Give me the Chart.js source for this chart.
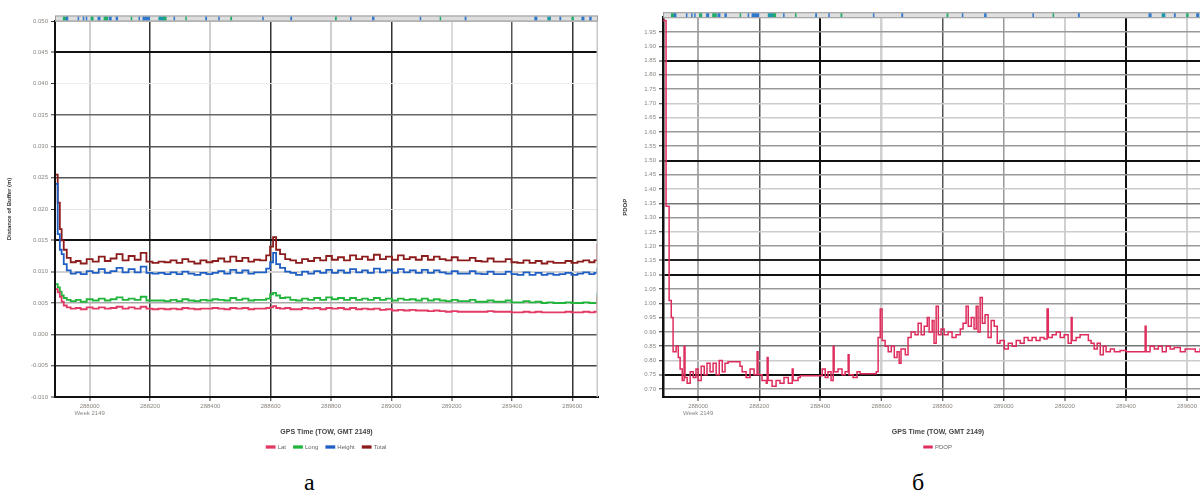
<!DOCTYPE html>
<html>
<head>
<meta charset="utf-8">
<title>Buffer deviation and PDOP, week 2149</title>
<script src="https://cdn.jsdelivr.net/npm/chart.js@4.4.1/dist/chart.umd.min.js"></script>
<style>
  html, body { margin: 0; padding: 0; background: #fff; width: 1200px; height: 502px; overflow: hidden; }
  .pane { position: absolute; top: 0; }
  .cap { position: absolute; font-family: "Liberation Serif", "DejaVu Serif", serif; font-size: 24px; color: #000; line-height: 1; }
</style>
</head>
<body>
<div class="pane" style="left:0px"><canvas id="chartA" width="653" height="460"></canvas></div>
<div class="pane" style="left:612px"><canvas id="chartB" width="652" height="460"></canvas></div>
<div class="cap" id="capA" style="left:304px; top:470px">а</div>
<div class="cap" id="capB" style="left:912px; top:470px">б</div>
<script>
// ---- GPS time of week (s), shared tick marks ----
const xTicks = [288000, 288200, 288400, 288600, 288800, 289000, 289200, 289400, 289600];
const weekLabel = 'Week 2149';

// ---- Chart a: buffer deviation per component (m) ----
const timeA = [287888, 287894, 287901, 287907, 287914, 287924, 287937, 287954, 287970, 287990,
  288010, 288030, 288050, 288069, 288089, 288109, 288129, 288149, 288169, 288188,
  288208, 288228, 288248, 288268, 288288, 288307, 288327, 288347, 288367, 288387,
  288407, 288426, 288446, 288466, 288486, 288506, 288526, 288545, 288565, 288585,
  288598, 288608, 288618, 288631, 288648, 288665, 288684, 288704, 288724, 288744,
  288764, 288784, 288803, 288823, 288843, 288863, 288883, 288903, 288922, 288942,
  288962, 288982, 289002, 289022, 289041, 289061, 289081, 289101, 289121, 289141,
  289160, 289180, 289200, 289220, 289240, 289260, 289279, 289299, 289319, 289339,
  289359, 289379, 289398, 289418, 289438, 289458, 289478, 289498, 289517, 289537,
  289557, 289577, 289597, 289617, 289636, 289656, 289673, 289683];

const latA = [0.0072, 0.0067, 0.0060, 0.0052, 0.0046, 0.0043, 0.0041, 0.0042, 0.0040, 0.0043,
  0.0041, 0.0043, 0.0041, 0.0042, 0.0044, 0.0041, 0.0043, 0.0041, 0.0044, 0.0041,
  0.0040, 0.0041, 0.0040, 0.0041, 0.0040, 0.0042, 0.0041, 0.0040, 0.0041, 0.0041,
  0.0042, 0.0041, 0.0040, 0.0042, 0.0041, 0.0042, 0.0040, 0.0041, 0.0041, 0.0042,
  0.0043, 0.0045, 0.0042, 0.0041, 0.0042, 0.0040, 0.0040, 0.0042, 0.0041, 0.0042,
  0.0040, 0.0042, 0.0041, 0.0042, 0.0040, 0.0042, 0.0040, 0.0041, 0.0040, 0.0041,
  0.0039, 0.0040, 0.0038, 0.0039, 0.0038, 0.0039, 0.0038, 0.0038, 0.0037, 0.0038,
  0.0037, 0.0036, 0.0037, 0.0036, 0.0036, 0.0036, 0.0036, 0.0036, 0.0037, 0.0036,
  0.0036, 0.0036, 0.0035, 0.0035, 0.0036, 0.0035, 0.0036, 0.0035, 0.0035, 0.0035,
  0.0035, 0.0036, 0.0035, 0.0035, 0.0036, 0.0035, 0.0036, 0.0060];

const longA = [0.0080, 0.0075, 0.0068, 0.0062, 0.0058, 0.0055, 0.0053, 0.0055, 0.0052, 0.0056,
  0.0054, 0.0057, 0.0054, 0.0056, 0.0059, 0.0055, 0.0057, 0.0055, 0.0060, 0.0054,
  0.0054, 0.0054, 0.0053, 0.0055, 0.0053, 0.0056, 0.0054, 0.0053, 0.0055, 0.0054,
  0.0056, 0.0055, 0.0054, 0.0058, 0.0055, 0.0057, 0.0054, 0.0055, 0.0055, 0.0057,
  0.0064, 0.0066, 0.0062, 0.0058, 0.0059, 0.0055, 0.0054, 0.0057, 0.0055, 0.0058,
  0.0055, 0.0059, 0.0056, 0.0058, 0.0055, 0.0058, 0.0055, 0.0057, 0.0055, 0.0058,
  0.0055, 0.0057, 0.0054, 0.0057, 0.0055, 0.0056, 0.0054, 0.0057, 0.0054, 0.0056,
  0.0054, 0.0053, 0.0055, 0.0053, 0.0053, 0.0055, 0.0052, 0.0052, 0.0054, 0.0052,
  0.0052, 0.0054, 0.0051, 0.0051, 0.0053, 0.0051, 0.0052, 0.0050, 0.0051, 0.0050,
  0.0050, 0.0051, 0.0050, 0.0050, 0.0051, 0.0050, 0.0050, 0.0066];

const heightA = [0.0240, 0.0160, 0.0135, 0.0128, 0.0112, 0.0102, 0.0097, 0.0099, 0.0096, 0.0101,
  0.0098, 0.0104, 0.0098, 0.0101, 0.0106, 0.0099, 0.0104, 0.0099, 0.0108, 0.0098,
  0.0097, 0.0098, 0.0096, 0.0099, 0.0096, 0.0100, 0.0097, 0.0095, 0.0098, 0.0096,
  0.0098, 0.0101, 0.0097, 0.0103, 0.0098, 0.0102, 0.0097, 0.0099, 0.0099, 0.0105,
  0.0115, 0.0130, 0.0112, 0.0106, 0.0100, 0.0098, 0.0095, 0.0100, 0.0097, 0.0101,
  0.0098, 0.0103, 0.0098, 0.0102, 0.0098, 0.0104, 0.0099, 0.0102, 0.0098, 0.0105,
  0.0099, 0.0102, 0.0098, 0.0104, 0.0099, 0.0102, 0.0098, 0.0103, 0.0098, 0.0102,
  0.0099, 0.0097, 0.0101, 0.0097, 0.0097, 0.0101, 0.0097, 0.0096, 0.0100, 0.0096,
  0.0096, 0.0100, 0.0096, 0.0095, 0.0099, 0.0095, 0.0098, 0.0095, 0.0097, 0.0095,
  0.0096, 0.0098, 0.0095, 0.0097, 0.0099, 0.0096, 0.0098, 0.0106];

const totalA = [0.0255, 0.0210, 0.0168, 0.0150, 0.0135, 0.0122, 0.0115, 0.0117, 0.0113, 0.0120,
  0.0116, 0.0124, 0.0117, 0.0121, 0.0128, 0.0118, 0.0125, 0.0119, 0.0130, 0.0116,
  0.0114, 0.0116, 0.0115, 0.0118, 0.0114, 0.0120, 0.0116, 0.0113, 0.0118, 0.0115,
  0.0117, 0.0121, 0.0116, 0.0124, 0.0117, 0.0122, 0.0116, 0.0119, 0.0118, 0.0126,
  0.0140, 0.0155, 0.0135, 0.0128, 0.0120, 0.0118, 0.0114, 0.0120, 0.0117, 0.0122,
  0.0118, 0.0125, 0.0119, 0.0123, 0.0118, 0.0126, 0.0120, 0.0124, 0.0119, 0.0127,
  0.0120, 0.0124, 0.0119, 0.0126, 0.0120, 0.0123, 0.0119, 0.0125, 0.0119, 0.0124,
  0.0120, 0.0118, 0.0123, 0.0118, 0.0118, 0.0122, 0.0117, 0.0116, 0.0121, 0.0116,
  0.0116, 0.0120, 0.0115, 0.0114, 0.0118, 0.0114, 0.0117, 0.0113, 0.0116, 0.0114,
  0.0114, 0.0117, 0.0114, 0.0116, 0.0118, 0.0115, 0.0118, 0.0145];

const yTicksA = [-0.010, -0.005, 0.000, 0.005, 0.010, 0.015, 0.020, 0.025, 0.030, 0.035, 0.040, 0.045, 0.050];

// ---- Chart б: PDOP ----
const timeB = [287885, 287895, 287902, 287905, 287912, 287915, 287918, 287928, 287935, 287941,
  287948, 287954, 287957, 287964, 287974, 287984, 287993, 288000, 288010, 288020,
  288029, 288039, 288049, 288059, 288069, 288079, 288088, 288098, 288137, 288144,
  288157, 288170, 288183, 288193, 288196, 288209, 288223, 288226, 288229, 288242,
  288255, 288268, 288281, 288295, 288308, 288311, 288327, 288334, 288399, 288406,
  288416, 288425, 288435, 288442, 288445, 288458, 288471, 288481, 288491, 288494,
  288507, 288520, 288530, 288570, 288583, 288589, 288596, 288602, 288612, 288622,
  288632, 288642, 288651, 288658, 288664, 288678, 288687, 288697, 288710, 288720,
  288730, 288740, 288750, 288756, 288766, 288772, 288779, 288786, 288795, 288805,
  288818, 288831, 288844, 288858, 288867, 288877, 288884, 288894, 288903, 288910,
  288916, 288923, 288930, 288939, 288949, 288959, 288969, 288979, 288988, 289002,
  289015, 289028, 289041, 289054, 289067, 289080, 289093, 289106, 289119, 289132,
  289142, 289146, 289159, 289172, 289185, 289198, 289211, 289221, 289224, 289237,
  289250, 289263, 289277, 289286, 289296, 289306, 289316, 289326, 289335, 289349,
  289362, 289381, 289401, 289457, 289463, 289466, 289479, 289493, 289506, 289519,
  289532, 289545, 289558, 289578, 289594, 289610, 289627, 289643, 289676];

const pdopB = [1.99, 1.34, 1.34, 1.01, 0.95, 0.95, 0.83, 0.85, 0.81, 0.77,
  0.73, 0.85, 0.74, 0.72, 0.76, 0.74, 0.77, 0.73, 0.78, 0.75,
  0.79, 0.76, 0.79, 0.75, 0.80, 0.76, 0.79, 0.795, 0.78, 0.76,
  0.74, 0.77, 0.75, 0.83, 0.75, 0.73, 0.72, 0.81, 0.73, 0.71,
  0.73, 0.72, 0.74, 0.72, 0.77, 0.73, 0.74, 0.746, 0.746, 0.77,
  0.74, 0.76, 0.73, 0.85, 0.76, 0.77, 0.75, 0.76, 0.82, 0.75,
  0.74, 0.76, 0.753, 0.753, 0.76, 0.88, 0.98, 0.87, 0.85, 0.83,
  0.85, 0.81, 0.83, 0.79, 0.84, 0.82, 0.88, 0.90, 0.89, 0.93,
  0.89, 0.92, 0.95, 0.90, 0.94, 0.86, 0.99, 0.89, 0.91, 0.89,
  0.90, 0.88, 0.89, 0.91, 0.93, 0.99, 0.92, 0.95, 0.91, 0.99,
  0.90, 1.02, 0.93, 0.96, 0.88, 0.94, 0.92, 0.86, 0.87, 0.84,
  0.86, 0.85, 0.87, 0.86, 0.88, 0.87, 0.88, 0.87, 0.88, 0.875,
  0.98, 0.88, 0.89, 0.90, 0.88, 0.89, 0.86, 0.95, 0.87, 0.88,
  0.89, 0.89, 0.87, 0.86, 0.84, 0.86, 0.82, 0.85, 0.83, 0.84,
  0.83, 0.835, 0.83, 0.83, 0.92, 0.83, 0.85, 0.84, 0.85, 0.83,
  0.85, 0.84, 0.845, 0.83, 0.84, 0.84, 0.83, 0.84, 0.84];

const yTicksB = [0.70, 0.75, 0.80, 0.85, 0.90, 0.95, 1.00, 1.05, 1.10, 1.15, 1.20, 1.25, 1.30,
  1.35, 1.40, 1.45, 1.50, 1.55, 1.60, 1.65, 1.70, 1.75, 1.80, 1.85, 1.90, 1.95];

// ---- satellite tracking status strip above the plots ----
const stripT = [287911, 287921, 287960, 287977, 287987, 288003, 288026, 288046, 288063, 288086,
  288136, 288162, 288175, 288228, 288245, 288278, 288317, 288383, 288426, 288466,
  288572, 288665, 288813, 288863, 288936, 289094, 289160, 289243, 289474, 289517,
  289557, 289597, 289630, 289656];
const stripW = [15, 8, 4, 4, 4, 10, 10, 15, 10, 8,
  4, 4, 25, 20, 10, 5, 4, 6, 4, 6,
  4, 6, 6, 4, 8, 5, 5, 6, 10, 12,
  6, 8, 10, 8];
const stripK = ['g', 'b', 'b', 'b', 'b', 'g', 'b', 'g', 'b', 'b',
  'g', 'b', 'b', 't', 'g', 'b', 'g', 'b', 'b', 'g',
  'b', 'b', 'g', 'b', 'b', 'b', 'g', 'b', 'b', 't',
  'b', 'g', 'b', 'b'];
const stripColors = { b: '#2f78cf', g: '#1fae6a', t: '#1a9aa8' };

const FONT = '"Liberation Sans", Arial, sans-serif';

const statusStrip = {
  id: 'statusStrip',
  afterDatasetsDraw(chart) {
    const { ctx, chartArea, scales } = chart;
    const x = scales.x;
    const h = 6, y0 = chartArea.top - h + 0.5;
    ctx.save();
    // plot frame on the right
    ctx.strokeStyle = '#c8c8c8';
    ctx.lineWidth = 1.5;
    ctx.beginPath();
    ctx.moveTo(chartArea.right - 0.75, chartArea.top);
    ctx.lineTo(chartArea.right - 0.75, chartArea.bottom);
    ctx.stroke();
    // strip
    ctx.fillStyle = '#dedede';
    ctx.fillRect(chartArea.left, y0, chartArea.right - chartArea.left, h);
    stripT.forEach((t, i) => {
      const a = x.getPixelForValue(t);
      const b = x.getPixelForValue(t + stripW[i]);
      ctx.fillStyle = stripColors[stripK[i]];
      ctx.fillRect(a, y0 + 1, Math.max(1.5, b - a), h - 2);
    });
    ctx.strokeStyle = '#9a9a9a';
    ctx.lineWidth = 1;
    ctx.strokeRect(chartArea.left + 0.5, y0 + 0.5, chartArea.right - chartArea.left - 1, h - 1);
    ctx.restore();
  }
};

function pts(ts, vs) { return ts.map((t, i) => ({ x: t, y: vs[i] })); }

function gridStyle(colors, widths) {
  return {
    color: (c) => colors[c.index] ?? '#ccc',
    lineWidth: (c) => widths[c.index] ?? 1,
    tickColor: '#333',
    tickLength: 4,
    tickWidth: 1
  };
}

function xScale(plotBottom, gridColors, gridWidths) {
  return {
    type: 'linear',
    min: 287885,
    max: 289685,
    afterBuildTicks: (s) => { s.ticks = xTicks.map(v => ({ value: v })); },
    afterFit: (s) => { s.height = s.chart.height - plotBottom - s.chart.legend.height; },
    ticks: {
      autoSkip: false,
      maxRotation: 0,
      padding: 2,
      color: '#8a8580',
      font: { family: FONT, size: 6 },
      callback: (v, i) => i === 0 ? [String(v), weekLabel] : String(v)
    },
    grid: gridStyle(gridColors, gridWidths),
    border: { color: '#111', width: 2 },
    title: {
      display: true,
      text: 'GPS Time (TOW, GMT 2149)',
      color: '#444',
      font: { family: FONT, size: 7, weight: 'bold' },
      padding: { top: 0, bottom: 0 }
    }
  };
}

// empty right-hand margin axis, keeps the plot centred over the legend
function spacerAxis(width) {
  return {
    position: 'right',
    display: true,
    afterFit: (s) => { s.width = width; },
    ticks: { display: false },
    grid: { display: false, drawTicks: false },
    border: { display: false }
  };
}

function legendOpts() {
  return {
    position: 'bottom',
    labels: {
      boxWidth: 8,
      boxHeight: 1.5,
      padding: 8,
      color: '#666',
      font: { family: FONT, size: 6 }
    }
  };
}

// ---- chart a ----
new Chart(document.getElementById('chartA'), {
  type: 'line',
  data: {
    datasets: [
      { label: 'Lat', data: pts(timeA, latA), borderColor: '#e23a64', backgroundColor: '#e23a64' },
      { label: 'Long', data: pts(timeA, longA), borderColor: '#21b53c', backgroundColor: '#21b53c' },
      { label: 'Height', data: pts(timeA, heightA), borderColor: '#1f5fc4', backgroundColor: '#1f5fc4' },
      { label: 'Total', data: pts(timeA, totalA), borderColor: '#8c1c1c', backgroundColor: '#8c1c1c' }
    ]
  },
  options: {
    responsive: false,
    animation: false,
    events: [],
    layout: { padding: { top: 21, right: 0, left: 0, bottom: 0 } },
    elements: { point: { radius: 0 }, line: { borderWidth: 1.8, stepped: true } },
    scales: {
      x: xScale(397,
        ['#cfcfcf', '#333', '#cfcfcf', '#333', '#cfcfcf', '#333', '#dadada', '#555', '#333'],
        [2, 1.5, 2, 1.5, 2, 1.5, 2, 1.5, 1.5]),
      y: {
        min: -0.010,
        max: 0.050,
        afterBuildTicks: (s) => { s.ticks = yTicksA.map(v => ({ value: v })); },
        afterFit: (s) => { s.width = 55; },
        ticks: {
          padding: 3,
          color: '#8a8580',
          font: { family: FONT, size: 6 },
          callback: (v) => v.toFixed(3)
        },
        grid: gridStyle(
          ['#111', '#444', '#555', '#aaa', '#d2d2d2', '#111', '#e4e4e4', '#555', '#555', '#666', '#eeeeee', '#111', '#bbb'],
          [2, 1.5, 1.5, 1.5, 2, 2, 1, 1.5, 1.5, 1.5, 1, 2, 1]),
        border: { color: '#111', width: 2 },
        title: {
          display: true,
          text: 'Distance of Buffer (m)',
          color: '#333',
          font: { family: FONT, size: 6, weight: 'bold' },
          padding: { top: 6, bottom: 2 }
        }
      },
      yR: spacerAxis(55)
    },
    plugins: { legend: legendOpts(), tooltip: { enabled: false } }
  },
  plugins: [statusStrip]
});

// ---- chart б ----
new Chart(document.getElementById('chartB'), {
  type: 'line',
  data: {
    datasets: [
      { label: 'PDOP', data: pts(timeB, pdopB), borderColor: '#de2d5c', backgroundColor: '#de2d5c' }
    ]
  },
  options: {
    responsive: false,
    animation: false,
    events: [],
    layout: { padding: { top: 17.7, right: 0, left: 0, bottom: 0 } },
    elements: { point: { radius: 0 }, line: { borderWidth: 1.5, stepped: true } },
    scales: {
      x: xScale(397,
        ['#aaa', '#555', '#111', '#d0d0d0', '#555', '#999', '#d0d0d0', '#111', '#d0d0d0'],
        [2, 1.5, 2, 2.5, 1.5, 1.5, 2, 2, 2]),
      y: {
        min: 0.672,
        max: 2.0,
        afterBuildTicks: (s) => { s.ticks = yTicksB.map(v => ({ value: v })); },
        afterFit: (s) => { s.width = 51; },
        ticks: {
          padding: 3,
          color: '#8a8580',
          font: { family: FONT, size: 6 },
          callback: (v) => v.toFixed(2)
        },
        grid: gridStyle(
          ['#999', '#111', '#ccc', '#777', '#999', '#ccc', '#999', '#999', '#111', '#222',
           '#999', '#ccc', '#999', '#777', '#ccc', '#999', '#111', '#999', '#999', '#ccc',
           '#ccc', '#999', '#999', '#111', '#999', '#999'],
          [1.5, 2, 1.5, 1.5, 1.5, 1.5, 1.5, 1.5, 2, 2,
           1.5, 1.5, 1.5, 1.5, 1.5, 1.5, 2, 1.5, 1.5, 1.5,
           1.5, 1.5, 1.5, 2, 1.5, 1.5]),
        border: { color: '#111', width: 2.5 },
        title: {
          display: true,
          text: 'PDOP',
          color: '#333',
          font: { family: FONT, size: 6, weight: 'bold' },
          padding: { top: 10, bottom: 2 }
        }
      },
      yR: spacerAxis(51)
    },
    plugins: { legend: legendOpts(), tooltip: { enabled: false } }
  },
  plugins: [statusStrip]
});
</script>
</body>
</html>
